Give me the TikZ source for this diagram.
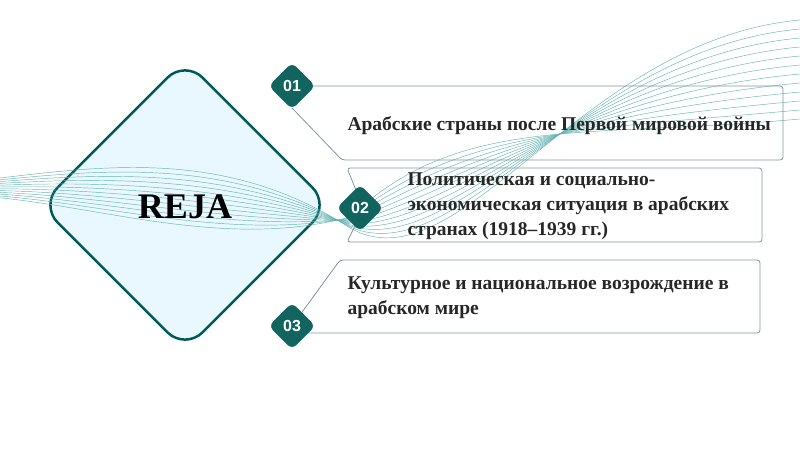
\documentclass[tikz,border=0pt]{standalone}
\usepackage{fontspec}
\setmainfont{Liberation Serif}
\newfontfamily\badgefont{Liberation Sans}
\definecolor{boxline}{RGB}{125,150,165}
\definecolor{badgec}{RGB}{18,100,95}
\begin{document}
\begin{tikzpicture}[x=1pt,y=-1pt,
  wave/.style={draw=teal!60,line width=0.45pt},
  box/.style={draw=boxline,line width=0.8pt,rounded corners=3pt},
  badge/.style={draw=none,fill=badgec,rotate=45,minimum size=33pt,rounded corners=6pt,inner sep=0pt},
  num/.style={text=white,font=\badgefont\bfseries\fontsize{16}{16}\selectfont},
  lbl/.style={anchor=west,align=left,font=\bfseries\fontsize{19.5}{25}\selectfont,text=black!85}]
\useasboundingbox (0,0) rectangle (800,449);
% big diamond
\node[draw=teal!70!black,line width=2.5pt,fill=cyan!9,rotate=45,minimum size=205pt,rounded corners=25pt] (big) at (185,205) {};
% waves
\foreach \i in {0,...,11}{
  \draw[wave] (0,{178+1.8*\i}) .. controls (110,{165+4*\i}) and (230,{150+9*\i}) .. (350,{228-\i})
     .. controls (460,{290-16*\i}) and (580,{40+9*\i}) .. (800,{20+9*\i});
}
\node[font=\bfseries\fontsize{36}{36}\selectfont] (reja) at (185,207) {REJA};
% boxes
\coordinate (b1) at (292,86);
\coordinate (b2) at (360,208);
\coordinate (b3) at (292,326);
\draw[box] (b1) -- (783,86) -- (783,160) -- (342,160) -- (292,108);
\draw[box] (360,200) -- (347,168) -- (762,168) -- (762,242) -- (347,242) -- (360,216);
\draw[box] (292,326) -- (340,260) -- (760,260) -- (760,333) -- (292,333);
% badges
\node[badge] (n1) at (b1) {};
\node[num] at (n1) {01};
\node[badge] (n2) at (b2) {};
\node[num] at (n2) {02};
\node[badge] (n3) at (b3) {};
\node[num] at (n3) {03};
% labels
\node[lbl] (t1) at (344,126) {Арабские страны после Первой мировой войны};
\node[lbl] (t2) at (404,206) {Политическая и социально-\\экономическая ситуация в арабских\\странах (1918–1939 гг.)};
\node[lbl] (t3) at (344,298) {Культурное и национальное возрождение в\\арабском мире};
\end{tikzpicture}
\end{document}
